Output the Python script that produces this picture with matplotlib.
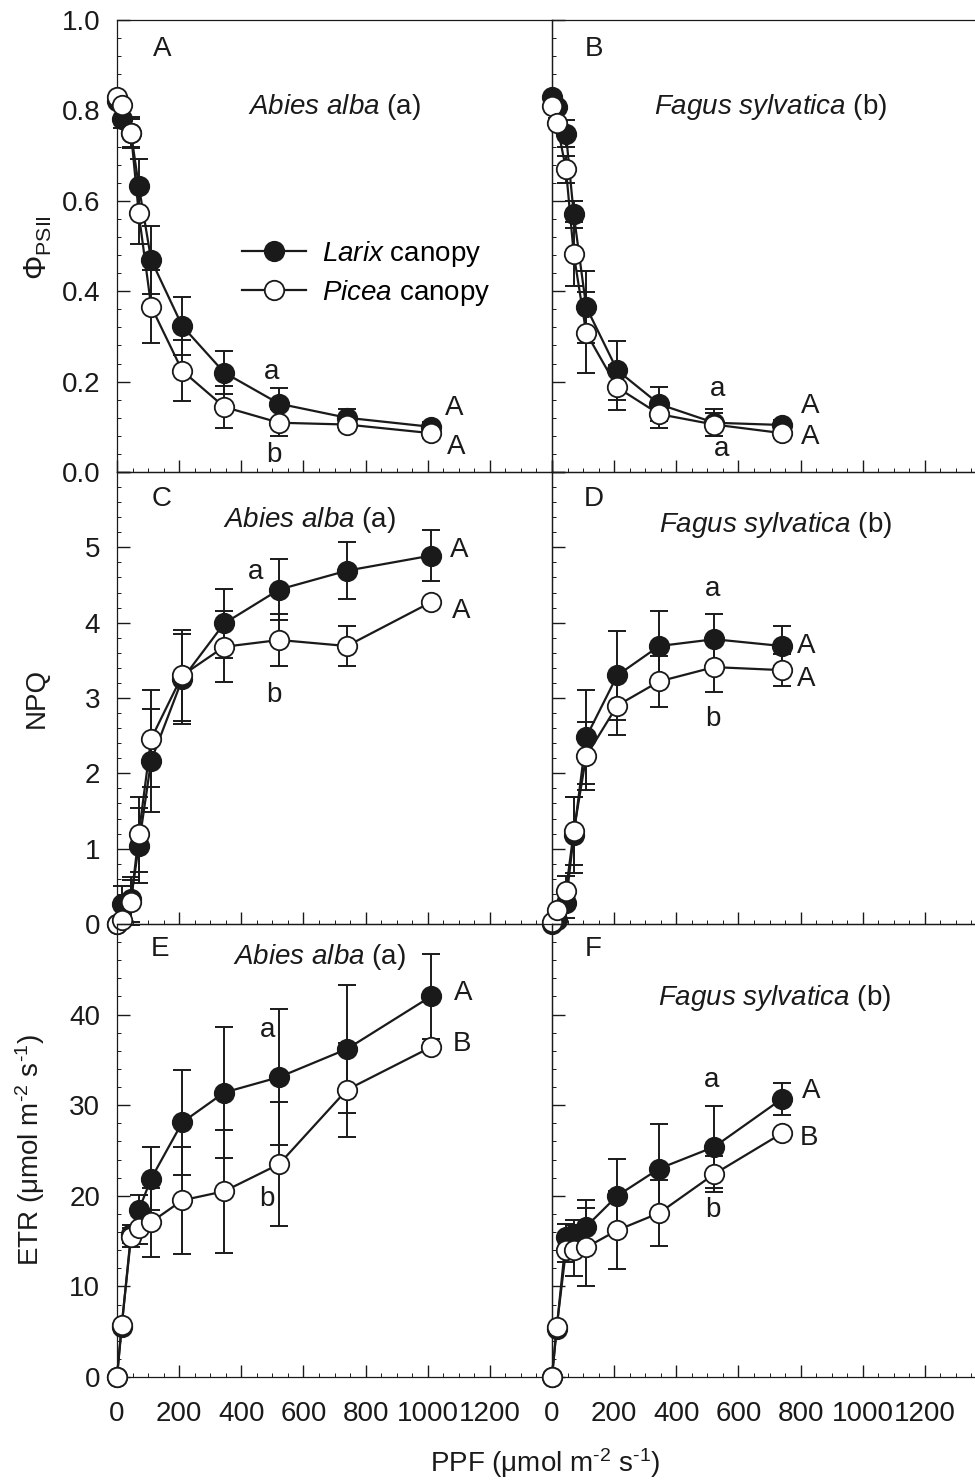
import numpy as np
import matplotlib
matplotlib.use("Agg")
import matplotlib.pyplot as plt
from matplotlib.ticker import MultipleLocator, FixedLocator, FixedFormatter

plt.rcParams['font.family'] = ['Liberation Sans', 'DejaVu Sans']
plt.rcParams['mathtext.fontset'] = 'custom'
plt.rcParams['mathtext.rm'] = 'Liberation Sans'
plt.rcParams['mathtext.it'] = 'Liberation Sans:italic'
plt.rcParams['mathtext.bf'] = 'Liberation Sans:bold'

# ---------------- data ----------------
ppf_abies = [0, 15, 45, 70, 110, 210, 345, 522, 740, 1010]
ppf_fagus = [0, 15, 45, 70, 110, 210, 345, 522, 740]

# Phi PSII
phi_abies_larix = [0.82, 0.78, 0.75, 0.633, 0.469, 0.323, 0.220, 0.151, 0.120, 0.100]
phi_abies_larix_err = [0, 0.02, 0.03, 0.06, 0.076, 0.065, 0.048, 0.035, 0.02, 0.01]
phi_abies_picea = [0.829, 0.812, 0.751, 0.572, 0.366, 0.224, 0.144, 0.109, 0.105, 0.086]
phi_abies_picea_err = [0, 0.01, 0.035, 0.068, 0.08, 0.067, 0.047, 0.03, 0.012, 0.01]

phi_fagus_larix = [0.829, 0.807, 0.748, 0.570, 0.365, 0.225, 0.150, 0.109, 0.104]
phi_fagus_larix_err = [0, 0.01, 0.03, 0.03, 0.08, 0.065, 0.038, 0.03, 0.01]
phi_fagus_picea = [0.81, 0.773, 0.670, 0.482, 0.308, 0.187, 0.128, 0.105, 0.086]
phi_fagus_picea_err = [0, 0.01, 0.03, 0.07, 0.09, 0.05, 0.03, 0.025, 0.01]

# NPQ
npq_abies_larix = [0.0, 0.27, 0.33, 1.04, 2.17, 3.25, 3.99, 4.44, 4.69, 4.89]
npq_abies_larix_err = [0, 0.24, 0.3, 0.5, 0.68, 0.6, 0.46, 0.40, 0.38, 0.34]
npq_abies_picea = [0.0, 0.05, 0.29, 1.19, 2.46, 3.30, 3.68, 3.77, 3.69, 4.27]
npq_abies_picea_err = [0, 0.05, 0.3, 0.5, 0.64, 0.6, 0.47, 0.35, 0.26, 0.0]

npq_fagus_larix = [0.0, 0.05, 0.28, 1.18, 2.48, 3.30, 3.69, 3.78, 3.69]
npq_fagus_larix_err = [0, 0.05, 0.2, 0.5, 0.62, 0.59, 0.46, 0.34, 0.26]
npq_fagus_picea = [0.02, 0.18, 0.44, 1.23, 2.23, 2.90, 3.22, 3.41, 3.37]
npq_fagus_picea_err = [0, 0.05, 0.2, 0.45, 0.45, 0.39, 0.34, 0.33, 0.21]

# ETR
etr_abies_larix = [0.0, 5.5, 15.8, 18.4, 21.9, 28.1, 31.4, 33.1, 36.2, 42.0]
etr_abies_larix_err = [0, 0, 1.0, 1.7, 3.5, 5.8, 7.2, 7.5, 7.1, 4.7]
etr_abies_picea = [0.0, 5.7, 15.4, 16.4, 17.1, 19.5, 20.5, 23.5, 31.7, 36.4]
etr_abies_picea_err = [0, 0, 1.0, 1.7, 3.8, 5.9, 6.8, 6.8, 5.2, 0]

etr_fagus_larix = [0.0, 5.3, 15.4, 15.8, 16.6, 20.0, 23.0, 25.4, 30.7]
etr_fagus_larix_err = [0, 0, 1.5, 1.5, 2.9, 4.1, 4.9, 4.5, 1.8]
etr_fagus_picea = [0.0, 5.5, 14.0, 14.0, 14.3, 16.2, 18.1, 22.4, 26.9]
etr_fagus_picea_err = [0, 0, 1.3, 2.8, 4.3, 4.3, 3.6, 2.0, 0]

x_ticks = [0, 200, 400, 600, 800, 1000, 1200, 1400]
x_ticklabels = ['0', '200', '400', '600', '800', '1000', '1200', '']
phi_ticks = [0.0, 0.2, 0.4, 0.6, 0.8, 1.0]
phi_ticklabels = ['0.0', '0.2', '0.4', '0.6', '0.8', '1.0']
npq_ticks = [0, 1, 2, 3, 4, 5, 6]
npq_ticklabels = ['0', '1', '2', '3', '4', '5', '']
etr_ticks = [0, 10, 20, 30, 40, 50]
etr_ticklabels = ['0', '10', '20', '30', '40', '']

species_abies = r'$\mathit{Abies\ alba}$ (a)'
species_fagus = r'$\mathit{Fagus\ sylvatica}$ (b)'
unit_str = 'μmol m$^{\\mathrm{\u20102}}$ s$^{\\mathrm{\u20101}}$'

# ---------------- figure ----------------
FW, FH = 975, 1480
fig = plt.figure(figsize=(FW / 100, FH / 100), dpi=100)

def pos(x0, y_top, w, h):
    return [x0 / FW, 1 - (y_top + h) / FH, w / FW, h / FH]

colx = [117, 552]
rowy = [(20, 452), (472, 452), (924, 453)]

FS = 20
MS = 14
INK = '#1a1a1a'

axes = {}
for r in range(3):
    for c in range(2):
        ax = fig.add_axes(pos(colx[c], rowy[r][0], 435, rowy[r][1]))
        axes[(r, c)] = ax
        ax.set_xlim(0, 1400)
        ax.xaxis.set_major_locator(FixedLocator(x_ticks))
        ax.xaxis.set_minor_locator(MultipleLocator(50))
        if r == 2:
            ax.xaxis.set_major_formatter(FixedFormatter(x_ticklabels))
        else:
            ax.tick_params(axis='x', labelbottom=False)
        if r == 0:
            ax.set_ylim(0, 1.0)
            ax.yaxis.set_major_locator(FixedLocator(phi_ticks))
            ax.yaxis.set_major_formatter(FixedFormatter(phi_ticklabels))
            ax.yaxis.set_minor_locator(MultipleLocator(0.04))
        elif r == 1:
            ax.set_ylim(0, 6)
            ax.yaxis.set_major_locator(FixedLocator(npq_ticks))
            ax.yaxis.set_major_formatter(FixedFormatter(npq_ticklabels))
            ax.yaxis.set_minor_locator(MultipleLocator(0.2))
        else:
            ax.set_ylim(0, 50)
            ax.yaxis.set_major_locator(FixedLocator(etr_ticks))
            ax.yaxis.set_major_formatter(FixedFormatter(etr_ticklabels))
            ax.yaxis.set_minor_locator(MultipleLocator(2))
        if c == 1:
            ax.tick_params(axis='y', labelleft=False)
        ax.tick_params(which='major', direction='in', length=9, width=1.0,
                       labelsize=FS, colors=INK)
        ax.tick_params(axis='y', which='major', pad=12)
        ax.tick_params(axis='x', which='major', pad=17)
        ax.tick_params(which='minor', direction='in', length=3, width=0.7,
                       colors=INK)
        for s in ax.spines.values():
            s.set_linewidth(0.9)
            s.set_color(INK)
        ax.patch.set_alpha(0)


def draw(ax, x, y_l, e_l, y_p, e_p):
    ax.errorbar(x, y_l, yerr=e_l, fmt='none', ecolor=INK, elinewidth=1.4,
                capsize=6.5, capthick=1.4, zorder=2, clip_on=False)
    ax.errorbar(x, y_p, yerr=e_p, fmt='none', ecolor=INK, elinewidth=1.4,
                capsize=6.5, capthick=1.4, zorder=2, clip_on=False)
    hl, = ax.plot(x, y_l, '-o', color=INK, lw=1.6, ms=MS, mfc=INK,
                  mec=INK, mew=1.3, zorder=3, clip_on=False)
    hp, = ax.plot(x, y_p, '-o', color=INK, lw=1.6, ms=MS, mfc='white',
                  mec=INK, mew=1.3, zorder=4, clip_on=False)
    return hl, hp

hl, hp = draw(axes[(0, 0)], ppf_abies, phi_abies_larix, phi_abies_larix_err,
              phi_abies_picea, phi_abies_picea_err)
draw(axes[(0, 1)], ppf_fagus, phi_fagus_larix, phi_fagus_larix_err,
     phi_fagus_picea, phi_fagus_picea_err)
draw(axes[(1, 0)], ppf_abies, npq_abies_larix, npq_abies_larix_err,
     npq_abies_picea, npq_abies_picea_err)
draw(axes[(1, 1)], ppf_fagus, npq_fagus_larix, npq_fagus_larix_err,
     npq_fagus_picea, npq_fagus_picea_err)
draw(axes[(2, 0)], ppf_abies, etr_abies_larix, etr_abies_larix_err,
     etr_abies_picea, etr_abies_picea_err)
draw(axes[(2, 1)], ppf_fagus, etr_fagus_larix, etr_fagus_larix_err,
     etr_fagus_picea, etr_fagus_picea_err)

# legend
leg = axes[(0, 0)].legend([hl, hp], [r'$\mathit{Larix}$ canopy', r'$\mathit{Picea}$ canopy'],
                          loc='center left', bbox_to_anchor=(0.287, 0.439),
                          frameon=False, fontsize=FS, handlelength=2.3,
                          handletextpad=0.6, labelspacing=0.33, borderpad=0,
                          borderaxespad=0)

# panel letters and species names
panel_info = {
    (0, 0): ('A', (0.103, 0.935), species_abies, (0.499, 0.808)),
    (0, 1): ('B', (0.096, 0.935), species_fagus, (0.503, 0.808)),
    (1, 0): ('C', (0.103, 0.94), species_abies, (0.442, 0.894)),
    (1, 1): ('D', (0.096, 0.94), species_fagus, (0.513, 0.883)),
    (2, 0): ('E', (0.099, 0.944), species_abies, (0.466, 0.927)),
    (2, 1): ('F', (0.094, 0.944), species_fagus, (0.511, 0.837)),
}
for k, (letter, lp, sp, spp) in panel_info.items():
    ax = axes[k]
    ax.text(lp[0], lp[1], letter, transform=ax.transAxes, ha='center',
            va='center', fontsize=FS, color=INK)
    ax.text(spp[0], spp[1], sp, transform=ax.transAxes, ha='center',
            va='center', fontsize=FS, color=INK)

# significance letters (data coordinates)
sig = {
    (0, 0): [('a', 498, 0.222), ('b', 505, 0.038), ('A', 1085, 0.141), ('A', 1092, 0.055)],
    (0, 1): [('a', 534, 0.183), ('a', 546, 0.050), ('A', 831, 0.146), ('A', 831, 0.077)],
    (1, 0): [('a', 447, 4.67), ('b', 505, 3.04), ('A', 1100, 4.96), ('A', 1108, 4.16)],
    (1, 1): [('a', 516, 4.45), ('b', 519, 2.72), ('A', 817, 3.69), ('A', 817, 3.25)],
    (2, 0): [('a', 483, 38.3), ('b', 483, 19.6), ('A', 1113, 42.4), ('B', 1110, 36.7)],
    (2, 1): [('a', 512, 32.8), ('b', 518, 18.4), ('A', 833, 31.6), ('B', 827, 26.4)],
}
for k, items in sig.items():
    for t, x, y in items:
        axes[k].text(x, y, t, ha='center', va='center', fontsize=FS,
                     color=INK, zorder=6)

# axis labels
fig.text(38 / FW, 1 - 248 / FH, r'$\Phi_{\mathrm{PSII}}$', rotation=90,
         ha='center', va='center', fontsize=FS + 2, color=INK)
fig.text(37 / FW, 1 - 698 / FH, 'NPQ', rotation=90, ha='center', va='center',
         fontsize=FS, color=INK)
fig.text(30 / FW, 1 - 1150 / FH, 'ETR (' + unit_str + ')', rotation=90,
         ha='center', va='center', fontsize=FS, color=INK)
fig.text(545 / FW, 1 - 1463 / FH, 'PPF (' + unit_str + ')',
         ha='center', va='center', fontsize=FS, color=INK)

fig.savefig('out.png', dpi=100)
